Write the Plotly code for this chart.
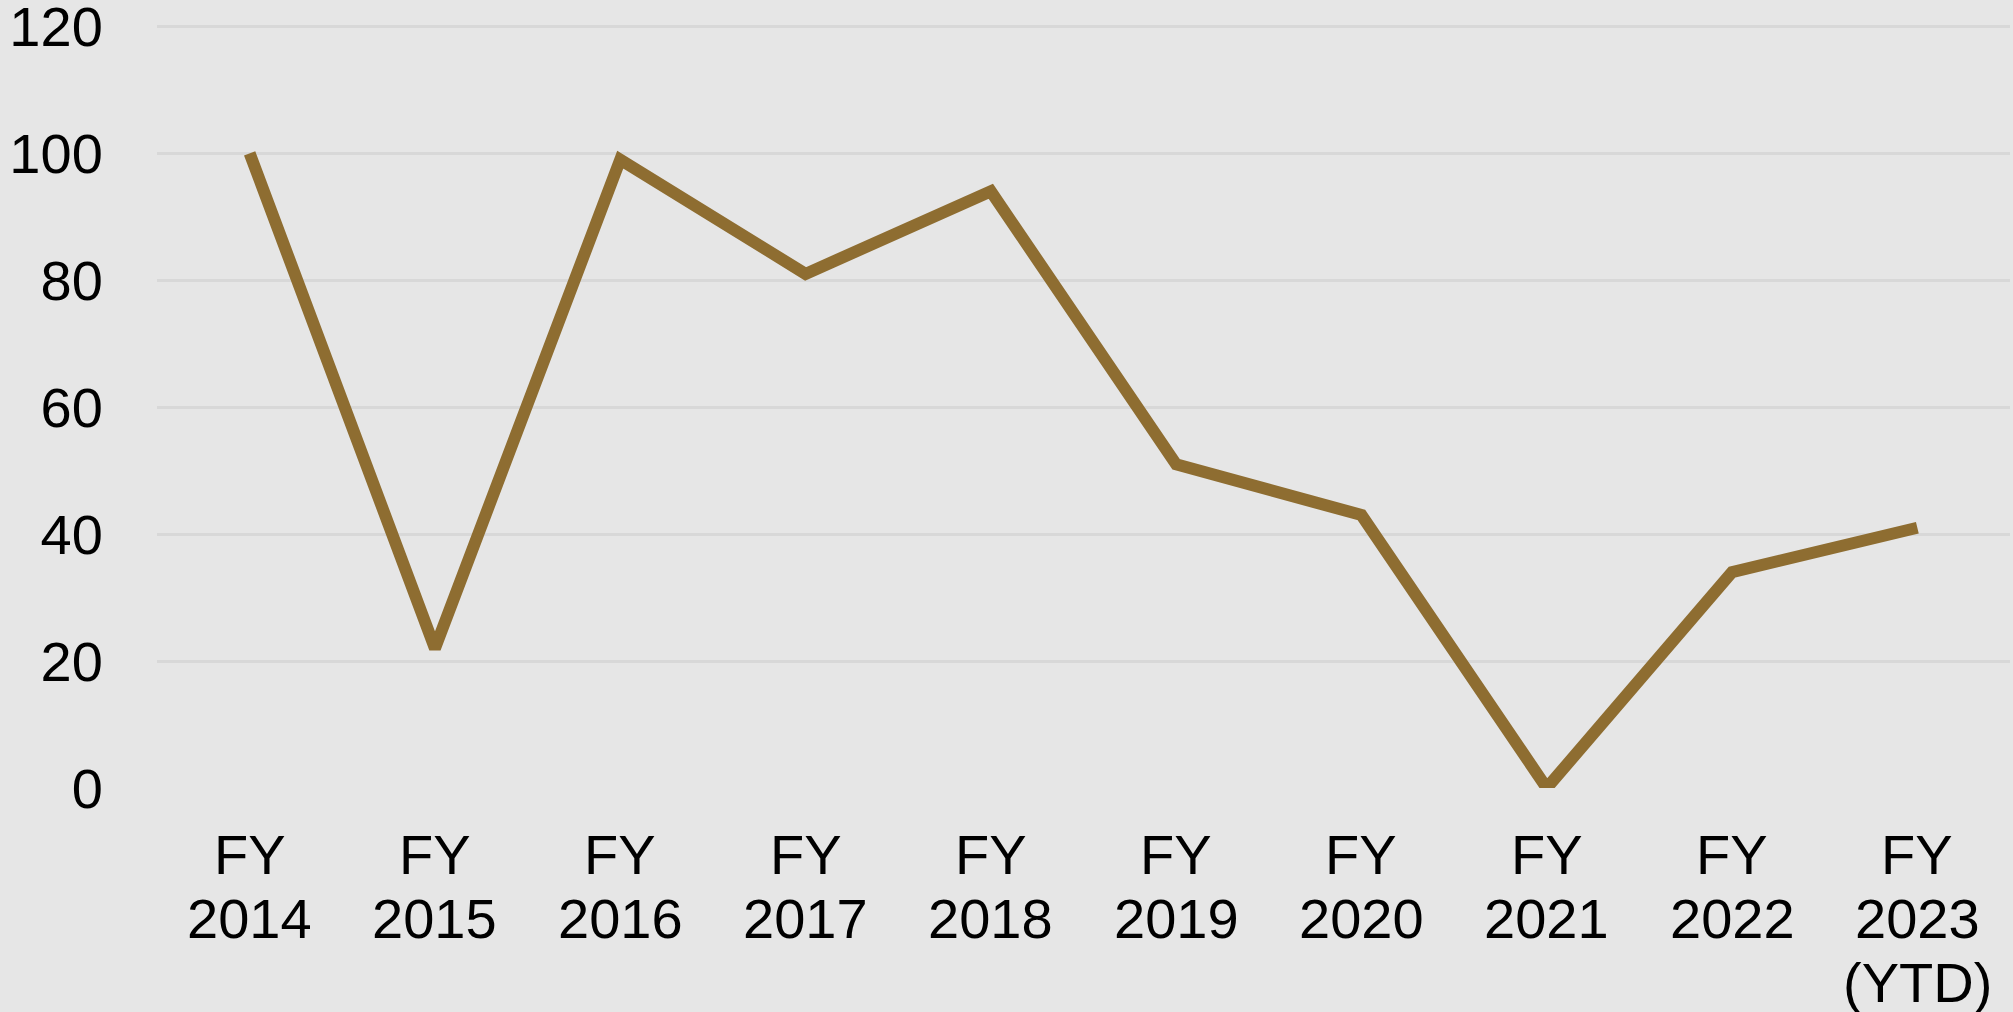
import plotly.graph_objects as go

categories = ["FY<br>2014", "FY<br>2015", "FY<br>2016", "FY<br>2017", "FY<br>2018",
              "FY<br>2019", "FY<br>2020", "FY<br>2021", "FY<br>2022", "FY<br>2023<br>(YTD)"]
values = [100, 22, 99, 81, 94, 51, 43, 0, 34, 41]
y_ticks = [0, 20, 40, 60, 80, 100, 120]

LINE_COLOR = "#8E6D31"
BG = "#E6E6E6"
GRID = "#D8D8D8"
FONT = "Liberation Sans, Arial, sans-serif"
FS = 56

fig = go.Figure()
fig.add_trace(go.Scatter(
    x=list(range(len(categories))), y=values, mode="lines",
    line=dict(color=LINE_COLOR, width=12),
    hoverinfo="skip", showlegend=False,
))

annotations = []
row_gap = 64
first_shift = 66
for i, lab in enumerate(categories):
    for r, part in enumerate(lab.split("<br>")):
        annotations.append(dict(
            x=i, xref="x", y=0, yref="paper", yanchor="middle", xanchor="center",
            text=part, showarrow=False, yshift=-(first_shift + r * row_gap),
            font=dict(family=FONT, size=FS, color="#000000"),
        ))

fig.update_layout(
    width=2013, height=1012,
    margin=dict(l=157, r=3, t=20, b=224, autoexpand=False),
    paper_bgcolor=BG, plot_bgcolor=BG,
    font=dict(family=FONT, size=FS, color="#000000"),
    annotations=annotations,
    xaxis=dict(
        range=[-0.5, len(categories) - 0.5], automargin=False,
        showticklabels=False, showgrid=False, zeroline=False, showline=False,
        ticks="", fixedrange=True,
    ),
    yaxis=dict(
        range=[0, 121], tickvals=y_ticks, ticktext=[str(v) for v in y_ticks],
        automargin=False,
        showgrid=True, gridcolor=GRID, gridwidth=3,
        zeroline=False, showline=False,
        ticks="outside", ticklen=42, tickcolor="rgba(0,0,0,0)",
        tickfont=dict(family=FONT, size=FS, color="#000000"),
        ticklabeloverflow="allow",
        fixedrange=True,
    ),
)

fig.write_html(
    "out.html",
    config={"displayModeBar": False},
    post_script="document.body.style.margin='0';document.body.style.overflow='hidden';",
)
